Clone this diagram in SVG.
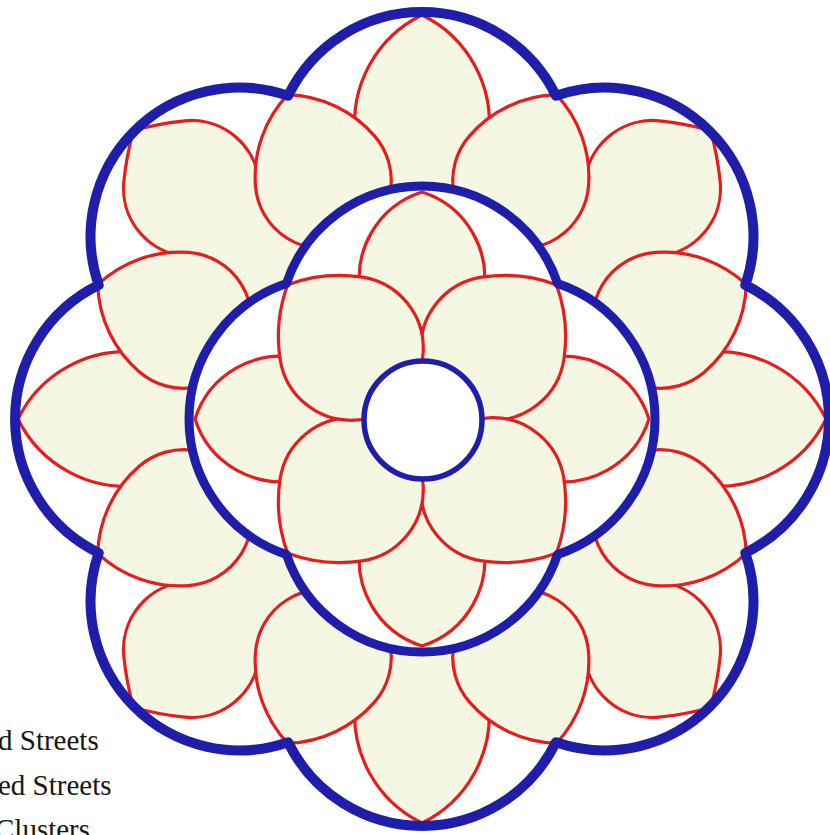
<svg xmlns="http://www.w3.org/2000/svg" xmlns:xlink="http://www.w3.org/1999/xlink" width="830" height="835" viewBox="0 0 830 835">
<style>
.pet{fill:#f5f7e3;stroke:#e41e1e;stroke-width:3.2;stroke-linejoin:round}
.street{fill:none;stroke:#1e1eaa;stroke-linejoin:round}
.outer{stroke-width:10}
.mid{stroke-width:9}
.hub{fill:#ffffff;stroke:#1e1eaa;stroke-width:5.5}
.lbl{font-family:"Liberation Serif","Times New Roman",serif;font-size:29px;fill:#151515}
</style>
<defs>
<path id="pMD" d="M0,-90 A150,150 0 0 0 -58.01,-42.65 A72,72 0 1 0 58.01,-42.65 A150,150 0 0 0 0,-90 Z"/>
<path id="pMA" d="M0,-92 A90,90 0 0 0 -60.44,13.81 A62,62 0 0 0 60.44,13.81 A90,90 0 0 0 0,-92 Z"/>
<path id="pOA" d="M0,-114 A120,120 0 0 0 -66.55,7.79 A67,67 0 0 0 66.55,7.79 A120,120 0 0 0 0,-114 Z"/>
<path id="pO22" d="M0,-93 A120,120 0 0 0 -64.54,-21.42 A68,68 0 1 0 64.54,-21.42 A120,120 0 0 0 0,-93 Z"/>
<path id="pOD" d="M0,-82 A300,300 0 0 0 -43.05,-52.64 A68,68 0 0 0 -50.9,45.1 L-98.8,87.6 L0,200 L98.8,87.6 L50.9,45.1 A68,68 0 0 0 43.05,-52.64 A300,300 0 0 0 0,-82 Z"/>
<clipPath id="outside">
<path clip-rule="evenodd" d="M-5,-5 H835 V840 H-5 Z M286.45,283.45 A143,143 0 0 1 557.55,283.45 A143,143 0 0 1 557.55,554.55 A143,143 0 0 1 286.45,554.55 A143,143 0 0 1 286.45,283.45 Z"/>
</clipPath>
</defs>

<g id="outer-ring" class="pet" clip-path="url(#outside)">
<g id="outer-axis-clusters">
<use href="#pOA" transform="translate(422,419) rotate(0) translate(0,-290)"/>
<use href="#pOA" transform="translate(422,419) rotate(90) translate(0,-290)"/>
<use href="#pOA" transform="translate(422,419) rotate(180) translate(0,-290)"/>
<use href="#pOA" transform="translate(422,419) rotate(270) translate(0,-290)"/>
</g>
<g id="outer-diagonal-clusters">
<use href="#pOD" transform="translate(422,419) rotate(45) translate(0,-326)"/>
<use href="#pOD" transform="translate(422,419) rotate(135) translate(0,-326)"/>
<use href="#pOD" transform="translate(422,419) rotate(225) translate(0,-326)"/>
<use href="#pOD" transform="translate(422,419) rotate(315) translate(0,-326)"/>
</g>
<g id="outer-corner-clusters">
<use href="#pO22" transform="translate(422,419) rotate(22.5) translate(0,-258)"/>
<use href="#pO22" transform="translate(422,419) rotate(67.5) translate(0,-258)"/>
<use href="#pO22" transform="translate(422,419) rotate(112.5) translate(0,-258)"/>
<use href="#pO22" transform="translate(422,419) rotate(157.5) translate(0,-258)"/>
<use href="#pO22" transform="translate(422,419) rotate(202.5) translate(0,-258)"/>
<use href="#pO22" transform="translate(422,419) rotate(247.5) translate(0,-258)"/>
<use href="#pO22" transform="translate(422,419) rotate(292.5) translate(0,-258)"/>
<use href="#pO22" transform="translate(422,419) rotate(337.5) translate(0,-258)"/>
</g>
</g>

<g id="middle-ring" class="pet">
<g id="middle-axis-clusters">
<use href="#pMA" transform="translate(422,419) rotate(0) translate(0,-135)"/>
<use href="#pMA" transform="translate(422,419) rotate(90) translate(0,-135)"/>
<use href="#pMA" transform="translate(422,419) rotate(180) translate(0,-135)"/>
<use href="#pMA" transform="translate(422,419) rotate(270) translate(0,-135)"/>
</g>
<g id="middle-diagonal-clusters">
<use href="#pMD" transform="translate(422,419) rotate(45) translate(0,-100)"/>
<use href="#pMD" transform="translate(422,419) rotate(135) translate(0,-100)"/>
<use href="#pMD" transform="translate(422,419) rotate(225) translate(0,-100)"/>
<use href="#pMD" transform="translate(422,419) rotate(315) translate(0,-100)"/>
</g>
</g>

<g id="hub">
<circle cx="423" cy="420" r="59" class="hub"/>
</g>

<g id="streets" class="street">
<path id="outer-street" class="outer" d="M288.1,95.7 A149,149 0 0 1 555.9,95.7 A149,149 0 0 1 745.3,285.1 A149,149 0 0 1 745.3,552.9 A149,149 0 0 1 555.9,742.3 A149,149 0 0 1 288.1,742.3 A149,149 0 0 1 98.7,552.9 A149,149 0 0 1 98.7,285.1 A149,149 0 0 1 288.1,95.7 Z"/>
<path id="middle-street" class="mid" d="M286.45,283.45 A143,143 0 0 1 557.55,283.45 A143,143 0 0 1 557.55,554.55 A143,143 0 0 1 286.45,554.55 A143,143 0 0 1 286.45,283.45 Z"/>
</g>

<g id="legend" class="lbl">
<text x="-2" y="750">d Streets</text>
<text x="-2" y="795">ed Streets</text>
<text x="-5" y="839">Clusters</text>
</g>
</svg>
